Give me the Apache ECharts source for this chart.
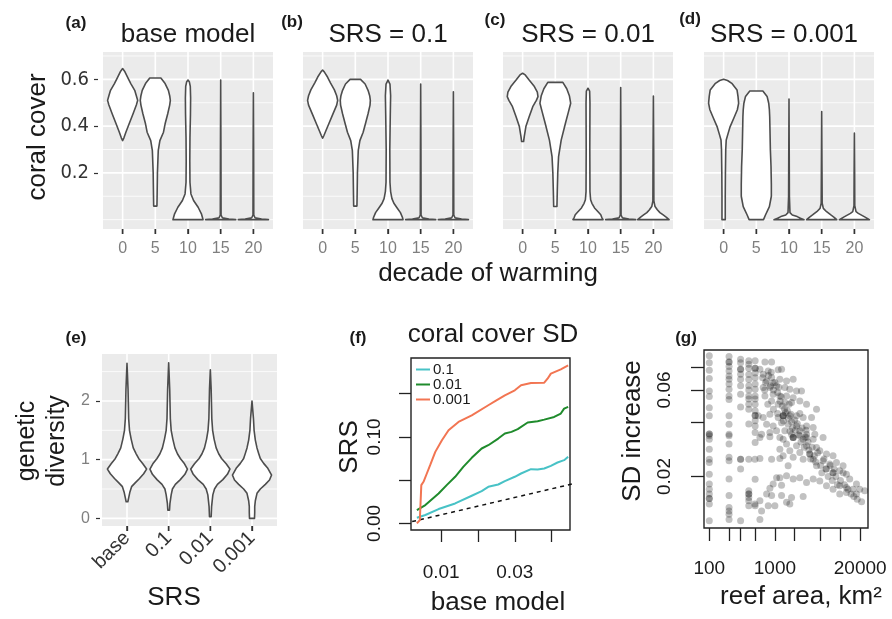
<!DOCTYPE html>
<html>
<head>
<meta charset="utf-8">
<script src="https://cdn.jsdelivr.net/npm/echarts@6/dist/echarts.min.js"></script>
<style>
  html, body { margin: 0; background: #fff; }
  #chart { width: 892px; height: 619px; }
</style>
</head>
<body>
<div id="chart"></div>
<script>
const FONT = "'Liberation Sans', Arial, sans-serif";
const NARROW = "'Liberation Sans Narrow', 'DejaVu Sans Condensed', 'Liberation Sans', sans-serif";

// ---- panels a-d: coral cover by decade of warming ----
const decadeLabels = ['0', '5', '10', '15', '20'];
const coverMajor = [0.2, 0.4, 0.6];
const coverMinor = [0, 0.1, 0.3, 0.5, 0.7];

// violin outlines: [coral cover, half width in category units]
const baseViolins = [
  [[0.338,0],[0.35,0.04],[0.374,0.1],[0.41,0.2],[0.453,0.32],[0.49,0.42],[0.51,0.46],[0.53,0.42],[0.553,0.37],[0.582,0.25],[0.61,0.15],[0.635,0.06],[0.646,0]],
  [[0.058,0.05],[0.1,0.055],[0.2,0.065],[0.295,0.09],[0.338,0.14],[0.374,0.25],[0.41,0.3],[0.453,0.38],[0.49,0.44],[0.51,0.46],[0.53,0.44],[0.553,0.4],[0.582,0.3],[0.606,0.17]],
  [[0,0.46],[0.01,0.44],[0.025,0.41],[0.053,0.31],[0.082,0.17],[0.11,0.09],[0.16,0.06],[0.25,0.055],[0.35,0.06],[0.45,0.075],[0.52,0.08],[0.57,0.07],[0.59,0.04],[0.597,0]],
  [[0,0.46],[0.003,0.25],[0.008,0.05],[0.02,0.012],[0.3,0.008],[0.597,0]],
  [[0,0.46],[0.003,0.25],[0.008,0.05],[0.02,0.012],[0.3,0.008],[0.543,0]]
];
const srs1Violins = [
  [[0.348,0],[0.36,0.04],[0.38,0.1],[0.41,0.19],[0.45,0.31],[0.49,0.43],[0.51,0.46],[0.53,0.43],[0.555,0.36],[0.585,0.24],[0.61,0.15],[0.632,0.05],[0.64,0]],
  [[0.058,0.05],[0.1,0.055],[0.2,0.065],[0.295,0.09],[0.338,0.14],[0.374,0.24],[0.41,0.31],[0.453,0.39],[0.49,0.45],[0.51,0.46],[0.53,0.44],[0.553,0.39],[0.58,0.3],[0.6,0.16]],
  [[0,0.46],[0.01,0.44],[0.03,0.38],[0.05,0.28],[0.07,0.18],[0.09,0.12],[0.12,0.08],[0.16,0.06],[0.3,0.055],[0.45,0.07],[0.53,0.08],[0.58,0.06],[0.597,0]],
  [[0,0.46],[0.003,0.25],[0.008,0.05],[0.02,0.012],[0.3,0.008],[0.58,0]],
  [[0,0.46],[0.003,0.25],[0.008,0.05],[0.02,0.012],[0.3,0.008],[0.547,0]]
];
const srs01Violins = [
  [[0.334,0.03],[0.355,0.05],[0.398,0.1],[0.44,0.2],[0.483,0.31],[0.51,0.42],[0.526,0.47],[0.545,0.45],[0.569,0.36],[0.597,0.2],[0.619,0.08],[0.626,0]],
  [[0.056,0.05],[0.12,0.06],[0.2,0.075],[0.27,0.1],[0.34,0.18],[0.412,0.31],[0.46,0.4],[0.498,0.47],[0.53,0.43],[0.56,0.35],[0.587,0.23]],
  [[0,0.46],[0.01,0.42],[0.021,0.39],[0.035,0.3],[0.05,0.2],[0.07,0.12],[0.085,0.08],[0.12,0.06],[0.3,0.055],[0.5,0.06],[0.55,0.05],[0.562,0]],
  [[0,0.46],[0.003,0.25],[0.008,0.05],[0.02,0.012],[0.3,0.008],[0.565,0]],
  [[0,0.48],[0.01,0.4],[0.02,0.3],[0.03,0.2],[0.042,0.12],[0.056,0.05],[0.08,0.015],[0.3,0.01],[0.529,0]]
];
const srs001Violins = [
  [[0,0.05],[0.1,0.05],[0.2,0.055],[0.3,0.065],[0.341,0.08],[0.37,0.14],[0.398,0.2],[0.44,0.33],[0.47,0.42],[0.498,0.46],[0.527,0.44],[0.555,0.41],[0.583,0.25],[0.595,0.12],[0.6,0]],
  [[0,0.22],[0.02,0.28],[0.056,0.4],[0.1,0.46],[0.15,0.46],[0.227,0.45],[0.3,0.43],[0.37,0.42],[0.44,0.41],[0.47,0.4],[0.498,0.38],[0.527,0.33],[0.55,0.2]],
  [[0,0.46],[0.006,0.35],[0.013,0.25],[0.02,0.1],[0.03,0.03],[0.1,0.012],[0.516,0]],
  [[0,0.46],[0.01,0.38],[0.02,0.28],[0.034,0.15],[0.048,0.05],[0.07,0.015],[0.2,0.01],[0.462,0]],
  [[0,0.46],[0.013,0.3],[0.027,0.12],[0.034,0.05],[0.06,0.012],[0.2,0.008],[0.37,0]]
];

// ---- panel e: genetic diversity ----
const srsLabels = ['base', '0.1', '0.01', '0.001'];
const diversityMajor = [0, 1, 2];
const diversityMinor = [0.5, 1.5, 2.5];
const diversityViolins = [
  [[0.283,0.02],[0.35,0.04],[0.45,0.07],[0.54,0.11],[0.6,0.19],[0.68,0.3],[0.76,0.4],[0.84,0.47],[0.93,0.38],[1.02,0.28],[1.1,0.22],[1.2,0.15],[1.35,0.1],[1.5,0.06],[1.7,0.04],[2.2,0.025],[2.64,0]],
  [[0.141,0.02],[0.25,0.03],[0.4,0.06],[0.5,0.09],[0.58,0.16],[0.66,0.28],[0.75,0.39],[0.84,0.45],[0.93,0.38],[1.02,0.28],[1.1,0.21],[1.2,0.15],[1.35,0.1],[1.5,0.06],[1.7,0.04],[2.2,0.025],[2.65,0]],
  [[0.028,0.02],[0.2,0.03],[0.4,0.06],[0.5,0.1],[0.58,0.17],[0.66,0.3],[0.75,0.41],[0.84,0.47],[0.93,0.38],[1.02,0.27],[1.1,0.2],[1.2,0.14],[1.35,0.09],[1.5,0.055],[1.7,0.035],[2.2,0.02],[2.53,0]],
  [[0,0.06],[0.1,0.065],[0.2,0.065],[0.3,0.08],[0.426,0.12],[0.5,0.2],[0.58,0.32],[0.653,0.42],[0.738,0.47],[0.852,0.38],[0.937,0.28],[1.02,0.2],[1.107,0.16],[1.2,0.12],[1.334,0.08],[1.5,0.05],[1.7,0.035],[2.0,0]]
];

// ---- panel f: coral cover SD, SRS vs base model ----
const sdTicksBase = [0.01, 0.02, 0.03, 0.04];
const sdLabelsBase = [0.01, 0.03];
const sdTicksSrs = [0, 0.05, 0.1, 0.15];
const sdLabelsSrs = [0, 0.1];
const sdSrs01 = [[0.0034,0.0066],[0.0057,0.0097],[0.0093,0.0166],[0.0138,0.0231],[0.0183,0.032],[0.021,0.0373],[0.0228,0.0423],[0.0255,0.045],[0.0273,0.0489],[0.03,0.0539],[0.0317,0.0577],[0.0344,0.0627],[0.0362,0.0623],[0.038,0.0635],[0.0398,0.0666],[0.0416,0.0704],[0.0434,0.0731],[0.0445,0.077]];
const sdSrs001 = [[0.0034,0.0154],[0.0057,0.0212],[0.0093,0.0346],[0.0115,0.0443],[0.0138,0.0539],[0.016,0.0654],[0.0183,0.0758],[0.021,0.0866],[0.0228,0.0904],[0.0255,0.0981],[0.0273,0.1039],[0.0291,0.1058],[0.0308,0.1089],[0.0335,0.1166],[0.0362,0.1181],[0.038,0.12],[0.0407,0.1231],[0.0425,0.127],[0.0434,0.1327],[0.0445,0.1347]];
const sdSrs0001 = [[0.0034,0.0],[0.0042,0.0039],[0.0046,0.0443],[0.0052,0.0481],[0.0061,0.0577],[0.007,0.0673],[0.0084,0.0827],[0.0102,0.0962],[0.012,0.1077],[0.0147,0.1173],[0.0165,0.1212],[0.0183,0.125],[0.0228,0.1366],[0.025,0.1423],[0.0273,0.1481],[0.03,0.1539],[0.0317,0.1597],[0.0344,0.1623],[0.038,0.1627],[0.0389,0.1673],[0.0398,0.1731],[0.0425,0.1781],[0.0445,0.1827]];
const identityLine = [[0, 0], [0.05, 0.05]];

// ---- panel g: SD increase vs reef area ----
const areaTicks = [100, 200, 300, 500, 1000, 2000, 5000, 10000, 20000];
const areaLabels = [100, 1000, 20000];
const increaseTicks = [0.02, 0.04, 0.06, 0.08];
const increaseLabels = [0.02, 0.06];
const reefs100 = [0.0925,0.0848,0.0771,0.0693,0.0592,0.0552,0.0479,0.0432,0.0343,0.0343,0.0335,0.0321,0.0283,0.0249,0.0239,0.0206,0.0182,0.017,0.016,0.0151,0.0151,0.0141,0.0114];
const reefs200 = [0.0917,0.0856,0.0856,0.0809,0.0764,0.0717,0.0687,0.0646,0.0606,0.0556,0.0532,0.0432,0.0388,0.0342,0.0335,0.0302,0.0255,0.0244,0.0194,0.0157,0.0135,0.0129,0.0124,0.0116];
const reefs300 = [0.0886,0.0848,0.078,0.078,0.0732,0.0687,0.0632,0.0568,0.0483,0.0249,0.0249,0.022,0.0114];
const reefs400 = [0.087,0.083,0.079,0.073,0.0686,0.0632,0.06,0.0556,0.0535,0.05,0.047,0.0389,0.0249,0.0167,0.016,0.016,0.0153,0.0147,0.0138];
const reefs500 = [0.087,0.079,0.079,0.0745,0.07,0.0646,0.0605,0.0556,0.0535,0.05,0.046,0.0434,0.0434,0.0406,0.038,0.035,0.0308,0.0193,0.0138];
const reefsLarge = [
  [591,0.078],[705,0.0856],[891,0.0856],[664,0.0732],[791,0.0764],[891,0.0702],[1122,0.0774],[1264,0.078],
  [748,0.0673],[942,0.0658],[1191,0.0687],[1506,0.0673],[1900,0.0687],[664,0.0618],[839,0.0618],[1061,0.0632],
  [1419,0.0618],[1690,0.0606],[2138,0.0592],[2546,0.0592],[705,0.0556],[942,0.0568],[1191,0.0556],[1506,0.0556],
  [1900,0.0544],[891,0.0522],[1122,0.0501],[1419,0.0511],[1794,0.0511],[2400,0.0522],[3039,0.0501],[4315,0.047],
  [557,0.0432],[664,0.0423],[839,0.0441],[1122,0.0423],[1337,0.0432],[1337,0.0432],[1337,0.0432],[1690,0.0432],
  [2138,0.0432],[2698,0.0423],[3622,0.0423],[748,0.0388],[942,0.038],[1264,0.0396],[1593,0.0388],[2138,0.038],
  [3039,0.038],[3837,0.0372],[627,0.0342],[839,0.0349],[1061,0.0357],[1419,0.0357],[1794,0.0342],[2400,0.0357],
  [3039,0.0342],[4064,0.0342],[5433,0.0328],[1191,0.0328],[1900,0.0328],[2698,0.0321],[591,0.0328],[839,0.0331],
  [1337,0.0321],[1900,0.0328],[1900,0.0328],[2400,0.0335],[3039,0.0328],[3837,0.0321],[1506,0.0302],[2138,0.0295],
  [3039,0.0295],[4315,0.0289],[1191,0.0283],[1690,0.0277],[2400,0.0271],[3405,0.0266],[3405,0.0266],[4838,0.0277],
  [6124,0.0266],[7710,0.026],[1337,0.026],[1900,0.0255],[2698,0.0249],[3837,0.0249],[5433,0.0244],[6866,0.0234],
  [8690,0.0239],[10960,0.0229],[4315,0.0229],[6124,0.022],[7710,0.021],[7710,0.021],[9745,0.0215],[12340,0.0206],
  [13830,0.0194],[17540,0.0182],[19680,0.017],[23440,0.0167],[15550,0.017],[12340,0.0174],[9745,0.0178],[7710,0.017],
  [6124,0.0178],[4838,0.0189],[3837,0.0194],[3039,0.0185],[2400,0.0197],[1900,0.0194],[1506,0.0202],[1191,0.0197],
  [891,0.0249],[1191,0.0251],[1593,0.0229],[1061,0.0197],[942,0.0182],[839,0.0172],[1264,0.0179],[748,0.016],
  [891,0.0157],[1264,0.0157],[1794,0.0153],[2698,0.0155],[1506,0.0144],[1690,0.0141],[1000,0.0138],[791,0.0138],
  [591,0.0147],[496,0.0141],[627,0.0129],[496,0.0249],[591,0.0251],[12340,0.0163],[17540,0.016],[9745,0.016],[591,0.0116]
];
// denser band of the cloud
const reefsBand = [
  [650,0.07],[720,0.066],[800,0.072],[860,0.063],[950,0.06],[1000,0.066],[1100,0.058],[1150,0.062],
  [1250,0.055],[1300,0.049],[1400,0.047],[1450,0.045],[1550,0.046],[1600,0.042],[1650,0.05],[1750,0.044],
  [1800,0.04],[1850,0.037],[2000,0.041],[2050,0.036],[2200,0.039],[2300,0.034],[2500,0.031],[2600,0.037],
  [2800,0.029],[2900,0.033],[3200,0.031],[3300,0.028],[3500,0.025],[3700,0.029],[4000,0.026],[4200,0.024],
  [4500,0.027],[5000,0.023],[5200,0.021],[5600,0.025],[6000,0.022],[6500,0.02],[7000,0.023],[7500,0.019],
  [8000,0.022],[8500,0.02],[9000,0.018],[10000,0.019],[11000,0.021],[11500,0.018],[13000,0.017],[14500,0.016],
  [16000,0.0155],[18000,0.015],[21000,0.0145],[1200,0.052],[1350,0.0405],[1700,0.0355],[2400,0.0445],[3000,0.036],
  [950,0.047],[1100,0.0445],[780,0.05],[700,0.06],[880,0.075]
];

const reefPoints = []
  .concat(reefs100.map(v => [100, v]))
  .concat(reefs200.map(v => [200, v]))
  .concat(reefs300.map(v => [300, v]))
  .concat(reefs400.map(v => [400, v]))
  .concat(reefs500.map(v => [500, v]))
  .concat(reefsLarge)
  .concat(reefsBand);

// ---- helpers ----
// rows: [kind, value, major]; kind 0 = horizontal gridline, 1 = vertical gridline
function gridLineRows(major, minor, nCat) {
  const rows = [];
  minor.forEach(v => rows.push([0, v, 0]));
  major.forEach(v => rows.push([0, v, 1]));
  for (let i = 0; i < nCat; i++) rows.push([1, i, 1]);
  return rows;
}

function gridLineSeries(idx, major, minor, nCat) {
  return {
    type: 'custom',
    xAxisIndex: idx,
    yAxisIndex: idx,
    silent: true,
    z: 1,
    data: gridLineRows(major, minor, nCat),
    renderItem(params, api) {
      const cs = params.coordSys;
      const kind = api.value(0);
      const pos = api.value(1);
      const lw = api.value(2) ? 1.6 : 0.8;
      let shape;
      if (kind === 0) {
        const y = api.coord([0, pos])[1];
        shape = { x1: cs.x, y1: y, x2: cs.x + cs.width, y2: y };
      } else {
        const x = api.coord([pos, 0])[0];
        shape = { x1: x, y1: cs.y, x2: x, y2: cs.y + cs.height };
      }
      return { type: 'line', shape, style: { stroke: '#ffffff', lineWidth: lw } };
    }
  };
}

// short dark ticks hanging under a ggplot panel, one per category
function bottomTickSeries(idx, nCat) {
  const rows = [];
  for (let i = 0; i < nCat; i++) rows.push([i, 0]);
  return {
    type: 'custom',
    xAxisIndex: idx,
    yAxisIndex: idx,
    silent: true,
    clip: false,
    z: 10,
    data: rows,
    renderItem(params, api) {
      const cs = params.coordSys;
      const x = api.coord([api.value(0), 0])[0];
      return {
        type: 'rect',
        shape: { x: x - 0.75, y: cs.y + cs.height, width: 1.5, height: 5 },
        style: { fill: '#333333' }
      };
    }
  };
}

function violinSeries(idx, profiles) {
  return {
    type: 'custom',
    xAxisIndex: idx,
    yAxisIndex: idx,
    silent: true,
    z: 3,
    data: profiles.map((p, i) => [i, 0]),
    renderItem(params, api) {
      const i = api.value(0);
      const prof = profiles[params.dataIndex];
      const right = prof.map(([v, w]) => api.coord([i + w, v]));
      const left = prof.slice().reverse().map(([v, w]) => api.coord([i - w, v]));
      return {
        type: 'polygon',
        shape: { points: right.concat(left) },
        style: { fill: '#ffffff', stroke: '#4d4d4d', lineWidth: 1.6, lineJoin: 'round' }
      };
    }
  };
}

const noLine = { show: false, onZero: false };

function catAxis(idx, labels, opts) {
  const ticks = labels.map((l, i) => i);
  return Object.assign({
    gridIndex: idx,
    type: 'value',
    min: -0.6,
    max: labels.length - 0.4,
    axisLine: noLine,
    splitLine: { show: false },
    axisTick: { show: true, inside: false, customValues: ticks, length: 5, lineStyle: { color: '#333', width: 1.3 } },
    axisLabel: {
      customValues: ticks,
      formatter: v => labels[Math.round(v)],
      color: '#7f7f7f', fontSize: 16, fontFamily: FONT, margin: 12
    }
  }, opts || {});
}

function coverAxis(idx, show) {
  return {
    gridIndex: idx,
    type: 'value',
    min: -0.04,
    max: 0.717,
    show,
    offset: 5,
    axisLine: noLine,
    splitLine: { show: false },
    axisTick: { show: true, customValues: coverMajor, length: 4, lineStyle: { color: '#333', width: 1.2 } },
    axisLabel: { customValues: coverMajor, color: '#333', fontSize: 20, fontFamily: NARROW, margin: 9 }
  };
}

const ggGrid = { show: true, backgroundColor: '#ebebeb', borderWidth: 0 };
const boxGrid = { show: true, backgroundColor: 'transparent', borderColor: '#222', borderWidth: 1.4 };
const baseTick = { show: true, lineStyle: { color: '#222', width: 1.3 } };

function txt(text, x, y, size, extra) {
  return Object.assign({
    type: 'text', x, y, silent: true,
    style: { text, font: `${size}px ${FONT}`, fill: '#1a1a1a', textAlign: 'center', textVerticalAlign: 'middle' }
  }, extra || {});
}
function bold(text, x, y) {
  return { type: 'text', x, y, silent: true,
    style: { text, font: `bold 17px ${FONT}`, fill: '#1a1a1a', textAlign: 'center', textVerticalAlign: 'middle' } };
}
const UP = { rotation: Math.PI / 2 };

const chart = echarts.init(document.getElementById('chart'), null, { renderer: 'canvas' });

chart.setOption({
  animation: false,
  backgroundColor: '#ffffff',
  grid: [
    Object.assign({ left: 103, top: 52, width: 170, height: 177 }, ggGrid),
    Object.assign({ left: 303, top: 52, width: 170, height: 177 }, ggGrid),
    Object.assign({ left: 503, top: 52, width: 170, height: 177 }, ggGrid),
    Object.assign({ left: 704, top: 52, width: 170, height: 177 }, ggGrid),
    Object.assign({ left: 102, top: 354, width: 175, height: 172 }, ggGrid),
    Object.assign({ left: 411, top: 358, width: 159, height: 172 }, boxGrid),
    Object.assign({ left: 704, top: 350, width: 164, height: 178 }, boxGrid)
  ],
  xAxis: [
    catAxis(0, decadeLabels),
    catAxis(1, decadeLabels),
    catAxis(2, decadeLabels),
    catAxis(3, decadeLabels),
    catAxis(4, srsLabels, {
      axisLabel: {
        customValues: [0, 1, 2, 3],
        formatter: v => srsLabels[Math.round(v)],
        rotate: 45, color: '#333', fontSize: 20, fontFamily: FONT, margin: 9
      }
    }),
    {
      gridIndex: 5, type: 'value', min: 0.0018, max: 0.045,
      axisLine: noLine, splitLine: { show: false },
      axisTick: Object.assign({ customValues: sdTicksBase, length: 12 }, baseTick),
      axisLabel: { customValues: sdLabelsBase, formatter: v => v.toFixed(2), color: '#1a1a1a', fontSize: 19, fontFamily: FONT, margin: 33 }
    },
    {
      gridIndex: 6, type: 'log', min: 83, max: 26300,
      axisLine: noLine, splitLine: { show: false }, minorTick: { show: false },
      axisTick: Object.assign({ customValues: areaTicks, length: 13 }, baseTick),
      axisLabel: { customValues: areaLabels, formatter: v => String(Math.round(v)), color: '#1a1a1a', fontSize: 19, fontFamily: FONT, margin: 31 }
    }
  ],
  yAxis: [
    coverAxis(0, true),
    coverAxis(1, false),
    coverAxis(2, false),
    coverAxis(3, false),
    {
      gridIndex: 4, type: 'value', min: -0.13, max: 2.8, offset: 2,
      axisLine: noLine, splitLine: { show: false },
      axisTick: { show: true, customValues: diversityMajor, length: 4, lineStyle: { color: '#333', width: 1.2 } },
      axisLabel: { customValues: diversityMajor, color: '#7f7f7f', fontSize: 16, fontFamily: FONT, margin: 10 }
    },
    {
      gridIndex: 5, type: 'value', min: -0.0076, max: 0.1912,
      axisLine: noLine, splitLine: { show: false },
      axisTick: Object.assign({ customValues: sdTicksSrs, length: 12 }, baseTick),
      axisLabel: { customValues: sdLabelsSrs, formatter: v => v.toFixed(2), rotate: 90, color: '#1a1a1a', fontSize: 19, fontFamily: FONT, margin: 27 }
    },
    {
      gridIndex: 6, type: 'log', min: 0.0104, max: 0.0996,
      axisLine: noLine, splitLine: { show: false }, minorTick: { show: false },
      axisTick: Object.assign({ customValues: increaseTicks, length: 13 }, baseTick),
      axisLabel: { customValues: increaseLabels, formatter: v => v.toFixed(2), rotate: 90, color: '#1a1a1a', fontSize: 19, fontFamily: FONT, margin: 30 }
    }
  ],
  legend: {
    data: ['0.1', '0.01', '0.001'],
    orient: 'vertical',
    left: 416,
    top: 362,
    padding: 0,
    icon: 'rect',
    itemWidth: 14,
    itemHeight: 2,
    itemGap: 0,
    selectedMode: false,
    textStyle: { fontSize: 15, lineHeight: 14, fontFamily: FONT, color: '#1a1a1a', padding: [0, 0, 0, -2] }
  },
  series: [
    gridLineSeries(0, coverMajor, coverMinor, 5),
    violinSeries(0, baseViolins),
    bottomTickSeries(0, 5),
    gridLineSeries(1, coverMajor, coverMinor, 5),
    violinSeries(1, srs1Violins),
    bottomTickSeries(1, 5),
    gridLineSeries(2, coverMajor, coverMinor, 5),
    violinSeries(2, srs01Violins),
    bottomTickSeries(2, 5),
    gridLineSeries(3, coverMajor, coverMinor, 5),
    violinSeries(3, srs001Violins),
    bottomTickSeries(3, 5),
    gridLineSeries(4, diversityMajor, diversityMinor, 4),
    violinSeries(4, diversityViolins),
    bottomTickSeries(4, 4),
    {
      name: 'identity', type: 'line', xAxisIndex: 5, yAxisIndex: 5, data: identityLine,
      symbol: 'none', clip: true, silent: true,
      lineStyle: { color: '#111', width: 1.5, type: [4, 4] }
    },
    { name: '0.1', type: 'line', xAxisIndex: 5, yAxisIndex: 5, data: sdSrs01, symbol: 'none', color: '#48c2c6', lineStyle: { width: 2 } },
    { name: '0.01', type: 'line', xAxisIndex: 5, yAxisIndex: 5, data: sdSrs001, symbol: 'none', color: '#1f8b2c', lineStyle: { width: 2 } },
    { name: '0.001', type: 'line', xAxisIndex: 5, yAxisIndex: 5, data: sdSrs0001, symbol: 'none', color: '#f27552', lineStyle: { width: 2 } },
    {
      type: 'scatter', xAxisIndex: 6, yAxisIndex: 6, data: reefPoints, silent: true,
      symbolSize: 7, itemStyle: { color: 'rgba(0,0,0,0.3)' }
    }
  ],
  graphic: [
    bold('(a)', 76, 23), bold('(b)', 292, 22), bold('(c)', 495, 20), bold('(d)', 690, 19),
    txt('base model', 188, 35, 26), txt('SRS = 0.1', 388, 35, 26),
    txt('SRS = 0.01', 588, 35, 26), txt('SRS = 0.001', 784, 35, 26),
    txt('coral cover', 38, 137, 26, UP),
    txt('decade of warming', 488, 274, 26),
    bold('(e)', 76, 338),
    {
      type: 'text', x: 42, y: 441, rotation: Math.PI / 2, silent: true,
      style: { text: 'genetic\ndiversity', font: `25px ${FONT}`, lineHeight: 30, fill: '#1a1a1a', textAlign: 'center', textVerticalAlign: 'middle' }
    },
    txt('SRS', 174, 598, 26),
    bold('(f)', 358, 338),
    txt('coral cover SD', 493, 335, 26),
    txt('SRS', 350, 447, 26, UP),
    txt('base model', 498, 603, 26),
    bold('(g)', 686, 338),
    txt('SD increase', 633, 431, 26, UP),
    txt('reef area, km²', 801, 597, 26)
  ]
});
</script>
</body>
</html>
